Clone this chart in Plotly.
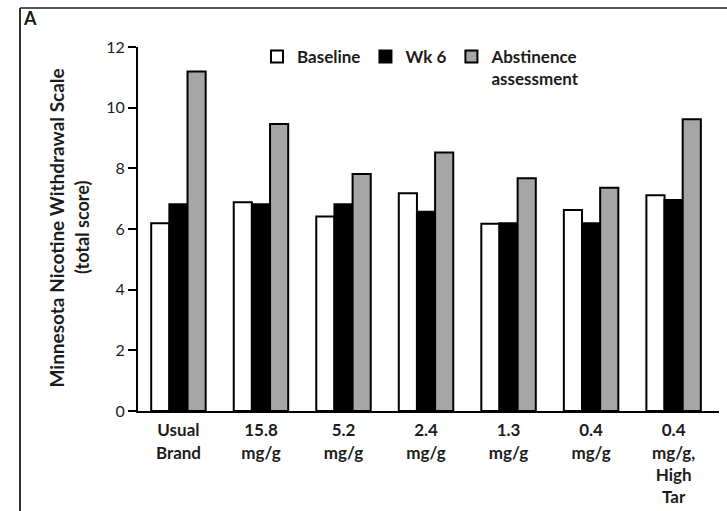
import plotly.graph_objects as go

# Minnesota Nicotine Withdrawal Scale total score by cigarette condition
categories = ["Usual<br>Brand", "15.8<br>mg/g", "5.2<br>mg/g", "2.4<br>mg/g",
              "1.3<br>mg/g", "0.4<br>mg/g", "0.4<br>mg/g,<br>High<br>Tar"]
baseline = [6.19, 6.88, 6.41, 7.18, 6.17, 6.63, 7.11]
week6 = [6.82, 6.82, 6.82, 6.57, 6.19, 6.19, 6.96]
abstinence = [11.19, 9.46, 7.81, 8.52, 7.67, 7.36, 9.62]
y_ticks = [0, 2, 4, 6, 8, 10, 12]

FONT = "Lato"
INK = "#1c1c1c"

# plot area in pixels (727 x 511 page)
W, H = 727, 511
L, R, T, B = 138, 8, 47, 100
PW, PH = W - L - R, H - T - B


def px(x):
    return (x - L) / PW


def py(y):
    return (H - B - y) / PH


fig = go.Figure()
series = [("Baseline", baseline, "#ffffff"),
          ("Wk 6", week6, "#000000"),
          ("Abstinence<br>assessment", abstinence, "#a6a6a6")]
for name, vals, color in series:
    fig.add_trace(go.Bar(
        x=categories, y=vals, name=name,
        marker=dict(color=color, line=dict(color="#000000", width=2)),
    ))

fig.update_layout(
    width=W, height=H,
    margin=dict(l=L, r=R, t=T, b=B, pad=0, autoexpand=False),
    paper_bgcolor="#ffffff", plot_bgcolor="#ffffff",
    barmode="group", bargap=0.34, bargroupgap=0,
    font=dict(family=FONT, size=17, color=INK),
    showlegend=True,
    legend=dict(
        orientation="h", x=px(257), xanchor="left", y=py(39), yanchor="top",
        valign="top", bgcolor="rgba(0,0,0,0)", borderwidth=0,
        font=dict(family=FONT, size=17, color=INK, weight="bold"),
        traceorder="normal", itemclick=False, itemdoubleclick=False,
    ),
    xaxis=dict(
        range=[-0.49, 6.55], showline=True, linecolor="#000000", linewidth=2,
        ticks="outside", ticklen=3, tickcolor="rgba(0,0,0,0)",
        showgrid=False, zeroline=False, automargin=False,
        tickfont=dict(family=FONT, size=17, color=INK, weight="bold"),
    ),
    yaxis=dict(
        range=[0, 12], tickvals=y_ticks, showline=True, linecolor="#000000",
        linewidth=2, ticks="outside", ticklen=8, tickwidth=2, tickcolor="#000000",
        showgrid=False, zeroline=False, automargin=False,
        tickfont=dict(family=FONT, size=16, color=INK),
    ),
)

# y-axis title on two lines
fig.add_annotation(text="Minnesota Nicotine Withdrawal Scale", xref="paper", yref="paper",
                   x=px(42), y=py(228), textangle=-90, showarrow=False,
                   font=dict(family=FONT, size=19, color=INK, weight="bold"))
fig.add_annotation(text="(total score)", xref="paper", yref="paper",
                   x=px(69), y=py(228), textangle=-90, showarrow=False,
                   font=dict(family=FONT, size=18, color=INK, weight="bold"))

# panel letter
fig.add_annotation(text="A", xref="paper", yref="paper", x=px(21), y=py(5),
                   xanchor="left", yanchor="top", showarrow=False,
                   font=dict(family=FONT, size=18, color=INK, weight="bold"))

# panel frame (top and left edges)
fig.add_shape(type="line", xref="paper", yref="paper", x0=px(20), x1=px(W + 2),
              y0=py(8), y1=py(8), line=dict(color="#555555", width=2))
fig.add_shape(type="line", xref="paper", yref="paper", x0=px(20), x1=px(20),
              y0=py(8), y1=py(H + 2), line=dict(color="#333333", width=2))

fig.write_html("out.html")
